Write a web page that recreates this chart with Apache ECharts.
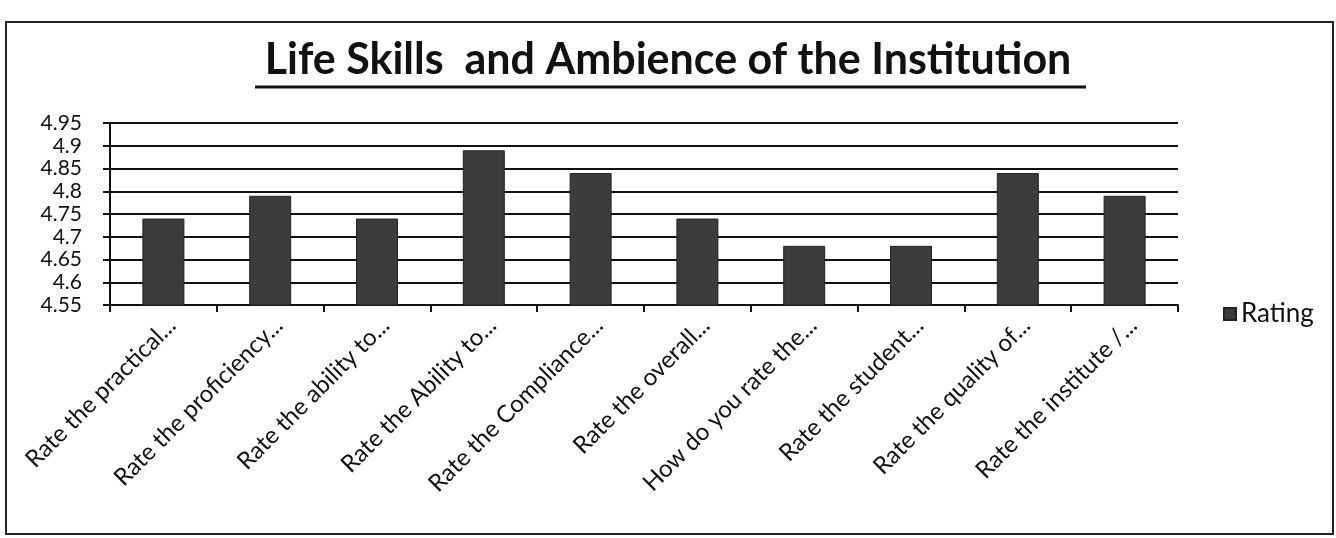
<!DOCTYPE html>
<html>
<head>
<meta charset="utf-8">
<script src="https://cdn.jsdelivr.net/npm/echarts@6/dist/echarts.min.js"></script>
<style>
html,body{margin:0;padding:0;background:#fff;}
#chart{width:1336px;height:538px;}
</style>
</head>
<body>
<div id="chart"></div>
<script>
const titleText = 'Life Skills  and Ambience of the Institution';
const categories = [
  'Rate the practical...',
  'Rate the proficiency...',
  'Rate the ability to...',
  'Rate the Ability to...',
  'Rate the Compliance...',
  'Rate the overall...',
  'How do you rate the...',
  'Rate the student...',
  'Rate the quality of...',
  'Rate the institute /...'
];
const seriesName = 'Rating';
const ratings = [4.74, 4.79, 4.74, 4.89, 4.84, 4.74, 4.68, 4.68, 4.84, 4.79];
const yTicks = [4.55, 4.6, 4.65, 4.7, 4.75, 4.8, 4.85, 4.9, 4.95];

const FONT = 'Lato, "Open Sans", sans-serif';
const chart = echarts.init(document.getElementById('chart'), null, {renderer: 'canvas'});
chart.setOption({
  backgroundColor: '#fff',
  animation: false,
  title: {
    text: titleText,
    left: 'center',
    top: 34,
    textStyle: {fontFamily: FONT, fontWeight: 'bold', fontSize: 43, color: '#111'}
  },
  graphic: [
    {type: 'rect', shape: {x: 6, y: 22, width: 1327, height: 512}, style: {fill: 'none', stroke: '#222', lineWidth: 2}},
    {type: 'line', shape: {x1: 255, y1: 87, x2: 1086, y2: 87}, style: {stroke: '#111', lineWidth: 3}}
  ],
  legend: {
    data: [seriesName],
    left: 1218,
    top: 296,
    icon: 'rect',
    itemWidth: 12,
    itemHeight: 12,
    itemGap: 4,
    textStyle: {fontFamily: FONT, fontSize: 26, color: '#111'}
  },
  grid: {left: 110, right: 158, top: 123, bottom: 233, containLabel: false},
  xAxis: {
    type: 'category',
    data: categories,
    axisLine: {lineStyle: {color: '#111', width: 2}},
    axisTick: {show: true, alignWithLabel: false, length: 7, lineStyle: {color: '#111', width: 2}},
    axisLabel: {rotate: 45, fontFamily: FONT, fontSize: 24, color: '#111', margin: 8, interval: 0,
      verticalAlign: 'top'}
  },
  yAxis: {
    type: 'value',
    min: yTicks[0],
    max: yTicks[yTicks.length - 1],
    interval: 0.05,
    axisLine: {show: true, lineStyle: {color: '#111', width: 2}},
    axisTick: {show: true, length: 7, lineStyle: {color: '#111', width: 2}},
    splitLine: {show: true, lineStyle: {color: '#111', width: 2}},
    axisLabel: {fontFamily: FONT, fontSize: 21, color: '#111', margin: 28,
      formatter: v => String(+v.toFixed(2))}
  },
  series: [{
    name: seriesName,
    type: 'bar',
    data: ratings,
    barWidth: 42,
    itemStyle: {color: '#3c3c3c', borderColor: '#222', borderWidth: 1}
  }]
});
</script>
</body>
</html>
